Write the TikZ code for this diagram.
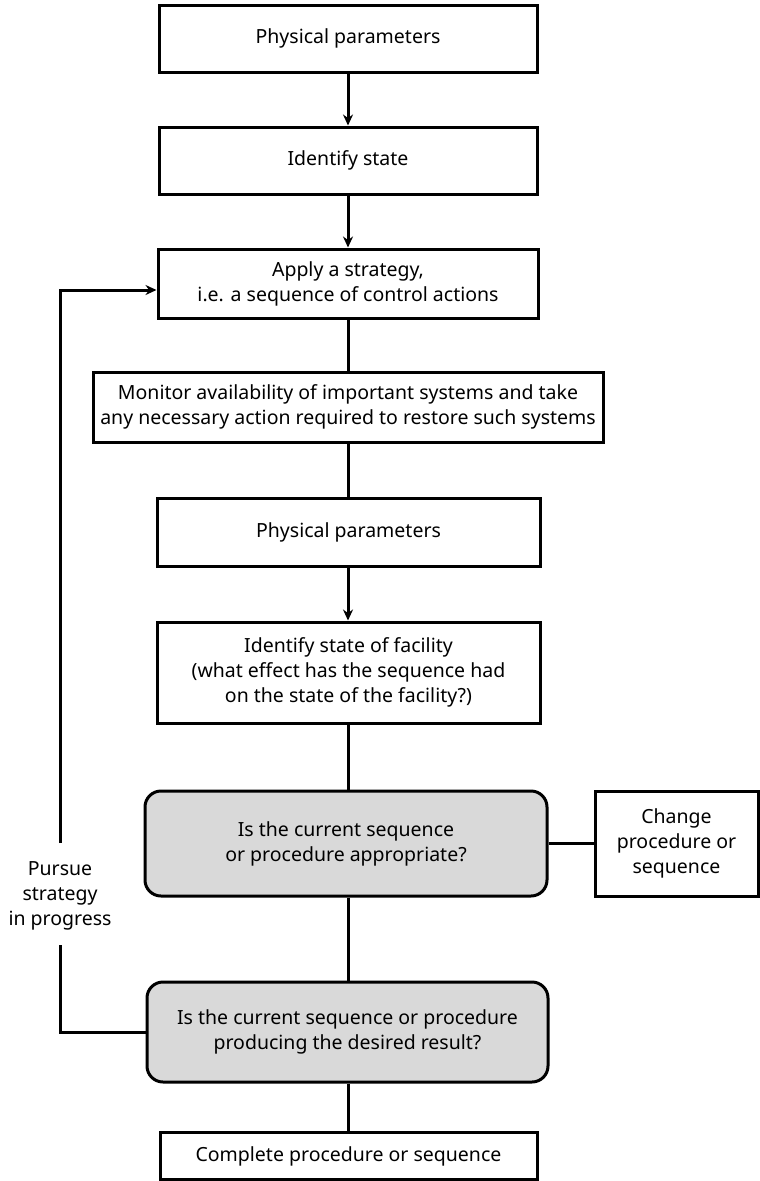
\documentclass[tikz,border=0pt]{standalone}
\usepackage{fontspec}
\setmainfont{Noto Sans}
\usetikzlibrary{arrows.meta}
\begin{document}
\begin{tikzpicture}[x=1pt,y=-1pt,
  every node/.style={font=\fontsize{19.5}{25}\selectfont, align=center, inner sep=0pt},
  box/.style={draw, line width=3pt, rectangle, fill=white},
  decision/.style={draw, line width=3pt, rectangle, rounded corners=16pt, fill=gray!30},
  conn/.style={line width=3pt},
  arr/.style={line width=3pt, -{Stealth[length=11pt,width=10pt]}}]
\useasboundingbox (0,0) rectangle (760,1181);
\node[box, minimum width=378pt, minimum height=67pt] (p1) at (348,38.5) {Physical parameters};
\node[box, minimum width=378pt, minimum height=67pt] (s1) at (348,160.5) {Identify state};
\node[box, minimum width=380pt, minimum height=69pt] (a1) at (348,283.5) {Apply a strategy,\\i.e. a sequence of control actions};
\node[box, minimum width=510pt, minimum height=70pt] (m1) at (348,407) {Monitor availability of important systems and take\\any necessary action required to restore such systems};
\node[box, minimum width=383pt, minimum height=68pt] (p2) at (348.5,532) {Physical parameters};
\node[box, minimum width=383pt, minimum height=101pt] (f1) at (348.5,672.5) {Identify state of facility\\(what effect has the sequence had\\on the state of the facility?)};
\node[decision, minimum width=402pt, minimum height=105pt] (g1) at (346,843.5) {Is the current sequence\\or procedure appropriate?};
\node[box, minimum width=163pt, minimum height=105pt] (c1) at (676.5,843.5) {Change\\procedure or\\sequence};
\node[decision, minimum width=401pt, minimum height=100pt] (g2) at (347.5,1032) {Is the current sequence or procedure\\producing the desired result?};
\node[box, minimum width=377pt, minimum height=47pt] (e1) at (348.5,1156) {Complete procedure or sequence};
\node (ps) at (60,896) {Pursue\\strategy\\in progress};
\coordinate (lt) at (60,290);
\coordinate (lb1) at (60,843);
\coordinate (lb2) at (60,945);
\coordinate (lb3) at (60,1032);

\draw[arr] (p1.south -| 348,0) -- (s1.north -| 348,0);
\draw[arr] (s1.south -| 348,0) -- (a1.north -| 348,0);
\draw[conn] (a1.south -| 348,0) -- (m1.north -| 348,0);
\draw[conn] (m1.south -| 348,0) -- (p2.north -| 348,0);
\draw[arr] (p2.south -| 348,0) -- (f1.north -| 348,0);
\draw[conn] (f1.south -| 348,0) -- (g1.north -| 348,0);
\draw[conn] (g1.south -| 348,0) -- (g2.north -| 348,0);
\draw[conn] (g2.south -| 348,0) -- (e1.north -| 348,0);
\draw[conn] (g1.east) -- (c1.west);
\draw[arr] (lb1) -- (lt) -- (lt -| a1.west);
\draw[conn] (lb2) -- (lb3) -- (g2.west);
\end{tikzpicture}
\end{document}
